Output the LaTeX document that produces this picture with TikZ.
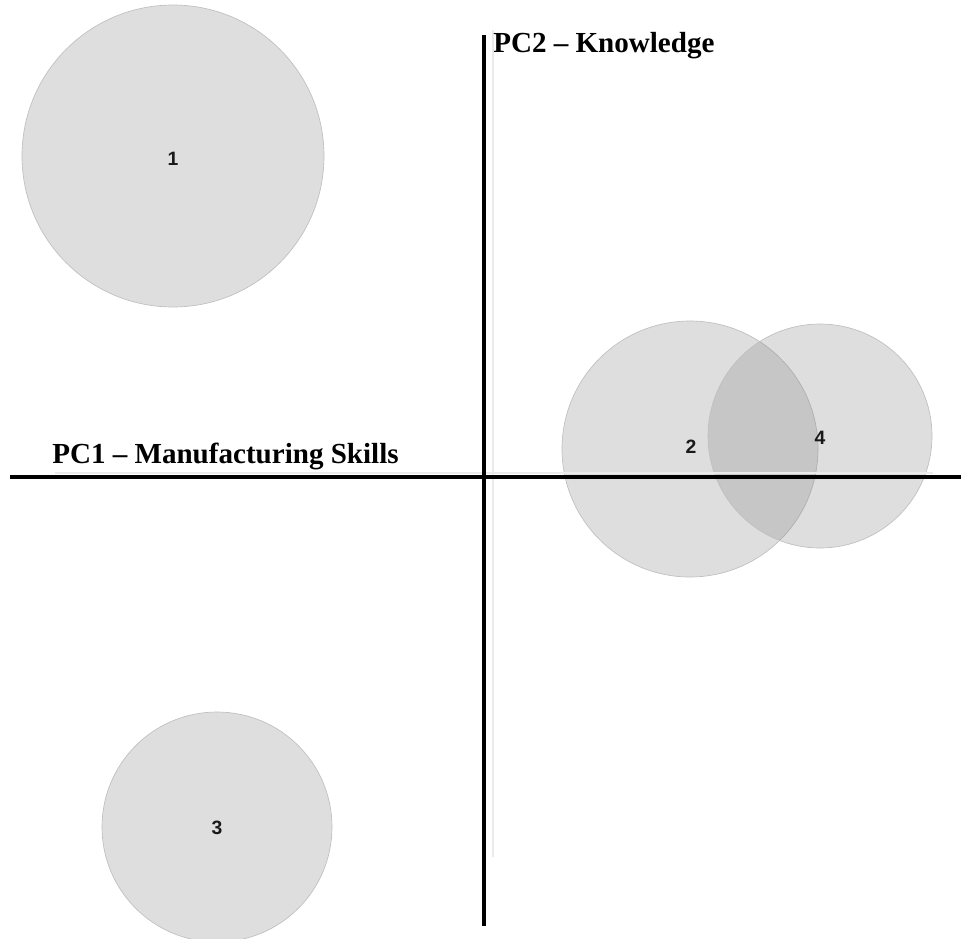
\documentclass[tikz,border=0pt]{standalone}
\usepackage{fontspec}
\setmainfont{Liberation Serif}
\newfontfamily\clusterfont{Liberation Sans}
\usepackage{tikz}
\usetikzlibrary{shapes,positioning}

\begin{document}
\begin{tikzpicture}[x=0.75pt,y=-0.75pt,
    cluster/.style={draw=black!25, line width=0.5pt,
        fill=black!50, fill opacity=0.26,
        circle, inner sep=0pt},
    clusternum/.style={inner sep=0pt, black!90,
        font=\clusterfont\fontsize{14.5}{16}\selectfont\bfseries},
    axis/.style={line width=3.6pt},
    ghost/.style={line width=2.2pt, black!8},
    axislabel/.style={font=\fontsize{21.8}{26}\selectfont\bfseries, inner sep=0pt}]

\useasboundingbox (0,0) rectangle (961,939);

\node[cluster,
    minimum size=302*0.75pt
] (cluster1) at (173,156) {};

\node[cluster,
    minimum size=256*0.75pt
] (cluster2) at (690,449) {};

\node[cluster,
    minimum size=224*0.75pt
] (cluster4) at (820,436) {};

\node[cluster,
    minimum size=230*0.75pt
] (cluster3) at (217,827) {};

\node[clusternum] (num1) at (173,159) { 1 };
\node[clusternum] (num2) at (691,447) { 2 };
\node[clusternum] (num4) at (820,438) { 4 };
\node[clusternum] (num3) at (217,828) { 3 };

% axes end points
\coordinate (ytop) at (484,35);
\coordinate (ybot) at (484,926);
\coordinate (xleft) at (10,477);
\coordinate (xright) at (961,477);

\draw[ghost] (493,30) -- (493,857);
\draw[ghost] (55,473) -- (933,473);

\draw[axis] (ytop) -- (ybot);
\draw[axis] (xleft) -- (xright);

\node[axislabel, anchor=base west] (pc2) at (493,52) { PC2 -- Knowledge };
\node[axislabel, anchor=base west] (pc1) at (52,463) { PC1 -- Manufacturing Skills };

\end{tikzpicture}
\end{document}
